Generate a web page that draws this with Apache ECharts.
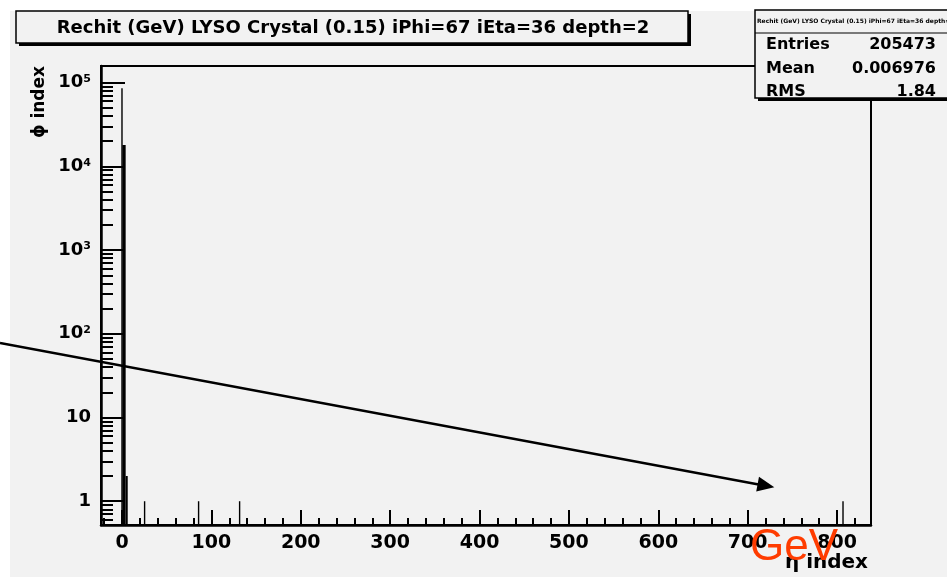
<!DOCTYPE html>
<html>
<head>
<meta charset="utf-8">
<script src="https://cdn.jsdelivr.net/npm/echarts@6/dist/echarts.min.js"></script>
<style>
  html, body { margin: 0; padding: 0; background: #fff; }
  #chart { width: 947px; height: 577px; }
</style>
</head>
<body>
<div id="chart"></div>
<script>
// Histogram title and statistics box contents
const histTitle = 'Rechit (GeV) LYSO Crystal (0.15) iPhi=67 iEta=36 depth=2';
const statNames = ['Entries', 'Mean', 'RMS'];
const statValues = ['205473', '0.006976', '1.84'];

// Histogram bins: lower edge, upper edge, entries
const binLow = [-0.8, 0.4, 4.1, 24.5, 84.9, 130.8, 805.9];
const binHigh = [0.4, 4.1, 6.4, 25.5, 85.9, 131.8, 806.9];
const binCounts = [85700, 18000, 2, 1, 1, 1, 1];

// Axis ranges
const xRange = [-23.5, 838];
const yRange = [0.52, 158000];

// Tick marks and labels
const xMajorTicks = [0, 100, 200, 300, 400, 500, 600, 700, 800];
const xMinorTicks = [-20, 20, 40, 60, 80, 120, 140, 160, 180, 220, 240, 260, 280,
  320, 340, 360, 380, 420, 440, 460, 480, 520, 540, 560, 580, 620, 640, 660, 680,
  720, 740, 760, 780, 820];
const yMajorTicks = [1, 10, 100, 1000, 10000, 100000];
const yMinorTicks = [0.6, 0.7, 0.8, 0.9,
  2, 3, 4, 5, 6, 7, 8, 9,
  20, 30, 40, 50, 60, 70, 80, 90,
  200, 300, 400, 500, 600, 700, 800, 900,
  2000, 3000, 4000, 5000, 6000, 7000, 8000, 9000,
  20000, 30000, 40000, 50000, 60000, 70000, 80000, 90000];

const xTitle = 'η index';
const yTitle = 'ϕ index';
const noteText = 'GeV';

const BOLD = 'DejaVu Sans';
const bins = binLow.map((lo, i) => [lo, binHigh[i], binCounts[i]]);

const tickStyle = { color: '#000', width: 2 };

const chart = echarts.init(document.getElementById('chart'), null, { renderer: 'canvas' });

const option = {
  backgroundColor: '#fff',
  animation: false,
  grid: {
    left: 101, top: 66, width: 770, height: 459,
    show: true, borderColor: '#000', borderWidth: 2,
    backgroundColor: 'transparent'
  },
  xAxis: [
    {
      type: 'value', min: xRange[0], max: xRange[1], position: 'bottom',
      axisLine: { onZero: false, lineStyle: { color: '#000', width: 2.5 } },
      axisTick: { inside: true, length: 15, customValues: xMajorTicks, lineStyle: tickStyle },
      axisLabel: {
        customValues: xMajorTicks, margin: 9,
        fontFamily: BOLD, fontWeight: 'bold', fontSize: 19, color: '#000'
      },
      splitLine: { show: false }
    },
    {
      type: 'value', min: xRange[0], max: xRange[1], position: 'bottom',
      axisLine: { show: false, onZero: false },
      axisTick: { inside: true, length: 7, customValues: xMinorTicks, lineStyle: tickStyle },
      axisLabel: { show: false },
      splitLine: { show: false }
    }
  ],
  yAxis: [
    {
      type: 'log', logBase: 10, min: yRange[0], max: yRange[1], position: 'left',
      axisLine: { show: true, onZero: false, lineStyle: { color: '#000', width: 2.5 } },
      axisTick: { show: true, inside: true, length: 24, customValues: yMajorTicks, lineStyle: tickStyle },
      axisLabel: {
        customValues: yMajorTicks, margin: 10,
        formatter: function (v) {
          if (v < 50) return '{b|' + Math.round(v) + '}';
          return '{b|10}{s|' + Math.round(Math.log10(v)) + '}';
        },
        rich: {
          b: { fontFamily: BOLD, fontWeight: 'bold', fontSize: 18, color: '#000' },
          s: { fontFamily: BOLD, fontWeight: 'bold', fontSize: 11, color: '#000', verticalAlign: 'top' }
        }
      },
      splitLine: { show: false }
    },
    {
      type: 'log', logBase: 10, min: yRange[0], max: yRange[1], position: 'left',
      axisLine: { show: false, onZero: false },
      axisTick: { show: true, inside: true, length: 12, customValues: yMinorTicks, lineStyle: tickStyle },
      axisLabel: { show: false },
      splitLine: { show: false }
    }
  ],
  series: [
    {
      type: 'custom',
      xAxisIndex: 0, yAxisIndex: 0,
      data: bins,
      encode: { x: [0, 1], y: 2 },
      clip: true,
      renderItem: function (params, api) {
        const top = api.coord([api.value(0), api.value(2)]);
        const base = api.coord([api.value(1), yRange[0]]);
        const w = Math.max(base[0] - top[0], 1.4);
        return {
          type: 'rect',
          shape: { x: top[0], y: top[1], width: w, height: base[1] - top[1] },
          style: { fill: '#000' }
        };
      }
    }
  ],
  graphic: [
    // pad background
    { type: 'rect', z: -10, x: 10, y: 11, shape: { width: 937, height: 566 }, style: { fill: '#f2f2f2' } },
    // title box with drop shadow
    { type: 'rect', z: 50, x: 19, y: 14, shape: { width: 672, height: 32 }, style: { fill: '#000' } },
    { type: 'rect', z: 51, x: 16, y: 11, shape: { width: 672, height: 32 }, style: { fill: '#f2f2f2', stroke: '#000', lineWidth: 1.5 } },
    {
      type: 'text', z: 52, x: 353, y: 28,
      style: { text: histTitle, fill: '#000', font: 'bold 18px "DejaVu Sans"', align: 'center', verticalAlign: 'middle' }
    },
    // statistics box with drop shadow
    { type: 'rect', z: 50, x: 758, y: 13, shape: { width: 200, height: 88 }, style: { fill: '#000' } },
    { type: 'rect', z: 51, x: 755, y: 10, shape: { width: 200, height: 88 }, style: { fill: '#f2f2f2', stroke: '#000', lineWidth: 1.5 } },
    { type: 'line', z: 52, shape: { x1: 755, y1: 33, x2: 947, y2: 33 }, style: { stroke: '#000', lineWidth: 1 } },
    {
      type: 'text', z: 52, x: 757, y: 21,
      style: { text: histTitle, fill: '#000', font: 'bold 6px "DejaVu Sans"', align: 'left', verticalAlign: 'middle' }
    },
    ...statNames.map((name, i) => ({
      type: 'text', z: 52, x: 766, y: 45 + i * 23.5,
      style: { text: name, fill: '#000', font: 'bold 16px "DejaVu Sans"', align: 'left', verticalAlign: 'middle' }
    })),
    ...statValues.map((val, i) => ({
      type: 'text', z: 52, x: 936, y: 45 + i * 23.5,
      style: { text: val, fill: '#000', font: 'bold 16px "DejaVu Sans"', align: 'right', verticalAlign: 'middle' }
    })),
    // axis titles
    {
      type: 'text', z: 52, x: 40, y: 66, rotation: Math.PI / 2,
      style: { text: yTitle, fill: '#000', font: 'bold 17px "DejaVu Sans"', align: 'right', verticalAlign: 'middle' }
    },
    {
      type: 'text', z: 52, x: 868, y: 563,
      style: { text: xTitle, fill: '#000', font: 'bold 20px "DejaVu Sans"', align: 'right', verticalAlign: 'middle' }
    },
    // annotation arrow
    {
      type: 'line', z: 60, shape: { x1: 0, y1: 343, x2: 760, y2: 484.7 },
      style: { stroke: '#000', lineWidth: 2.5 }
    },
    {
      type: 'polygon', z: 60,
      shape: { points: [[774.3, 487.3], [756.2, 491.6], [759.0, 476.8]] },
      style: { fill: '#000' }
    },
    {
      type: 'text', z: 61, x: 750, y: 548,
      style: { text: noteText, fill: '#ff3c00', font: '44px "Liberation Sans"', align: 'left', verticalAlign: 'middle' }
    }
  ]
};

chart.setOption(option);
</script>
</body>
</html>
